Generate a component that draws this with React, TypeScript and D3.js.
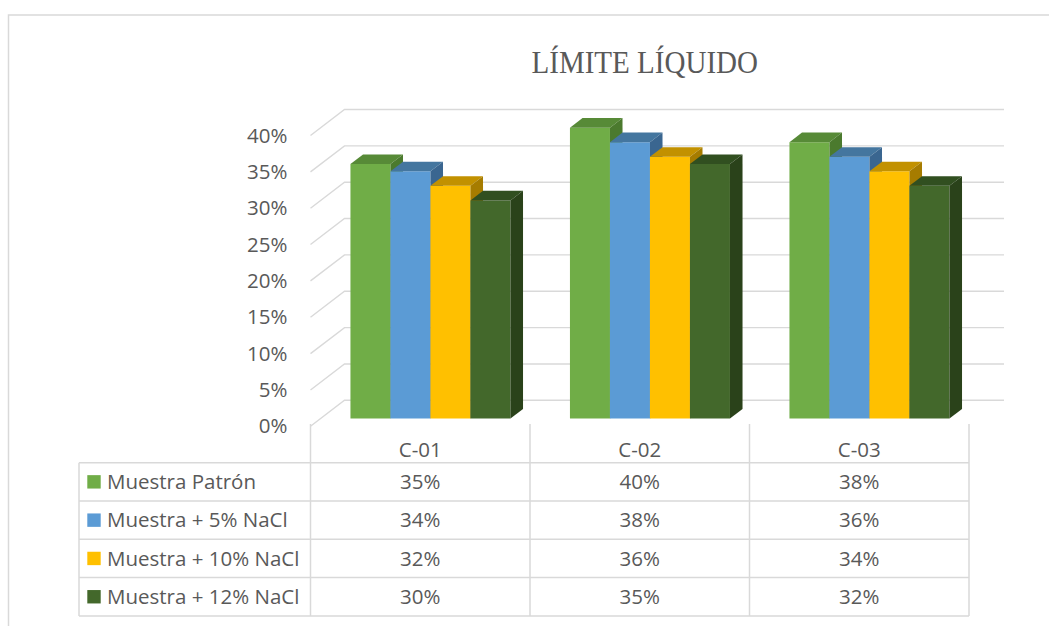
import * as d3 from "d3";
import React from "react";

const categories = ["C-01", "C-02", "C-03"];
const seriesNames = ["Muestra Patrón", "Muestra + 5% NaCl", "Muestra + 10% NaCl", "Muestra + 12% NaCl"];
const patron = [35, 40, 38];
const nacl5 = [34, 38, 36];
const nacl10 = [32, 36, 34];
const nacl12 = [30, 35, 32];
const seriesValues = [patron, nacl5, nacl10, nacl12];
const yTicks = [0, 5, 10, 15, 20, 25, 30, 35, 40];

const frontColors = ["#70ad47", "#5b9bd5", "#ffc000", "#43682b"];
const topColors = ["#578a37", "#44769f", "#c29100", "#314f20"];
const sideColors = ["#4b7a2e", "#3a6690", "#a67c00", "#2a421a"];

const W = 1049;
const H = 626;
const textColor = "#595959";
const lineColor = "#d9d9d9";
const font = "'Open Sans', sans-serif";
const fontSize = 20.5;

// 3D projection: depth z in [0,1] from front plane to back wall
const DEPTH_X = 34;
const DEPTH_Y = -26;
const BAR_Z0 = 0.3;
const BAR_Z1 = 0.67;

const tableLeft = 79;
const axisX = 310.5;
const tableRight = 969;
const headerTop = 424;
const headerBottom = 462.7;
const rowH = 38.3;

export default function App() {
  const x = d3.scaleBand<string>().domain(categories).range([axisX, tableRight]).padding(0);
  const groupW = 160;
  const inner = d3
    .scaleBand<number>()
    .domain(seriesNames.map((_, i) => i))
    .range([0, groupW])
    .padding(0);
  const y = d3.scaleLinear().domain([0, 40]).range([426.3, 135.5]);

  const proj = (px: number, v: number, z: number): [number, number] => [px + z * DEPTH_X, y(v) + z * DEPTH_Y];
  const pts = (arr: [number, number][]) => arr.map((p) => p.join(",")).join(" ");

  const gridEnd = 1004;

  const bars: React.ReactNode[] = [];
  categories.forEach((c, ci) => {
    const gx = (x(c) as number) + (x.bandwidth() - groupW) / 2;
    seriesValues.forEach((vals, si) => {
      const v = vals[ci];
      const x0 = gx + (inner(si) as number);
      const x1 = x0 + inner.bandwidth();
      const fbl = proj(x0, 0, BAR_Z0);
      const fbr = proj(x1, 0, BAR_Z0);
      const ftl = proj(x0, v, BAR_Z0);
      const ftr = proj(x1, v, BAR_Z0);
      const btl = proj(x0, v, BAR_Z1);
      const btr = proj(x1, v, BAR_Z1);
      const bbr = proj(x1, 0, BAR_Z1);
      bars.push(
        <g key={`${ci}-${si}`}>
          <polygon points={pts([fbl, fbr, ftr, ftl])} fill={frontColors[si]} />
          <polygon points={pts([ftl, ftr, btr, btl])} fill={topColors[si]} />
          <polygon points={pts([fbr, ftr, btr, bbr])} fill={sideColors[si]} />
        </g>
      );
    });
  });

  return (
    <svg
      width={W}
      height={H}
      style={{ position: "absolute", left: 0, top: 0, background: "#fff" }}
    >
      <rect x={8.5} y={15} width={W + 20} height={H + 20} fill="#fff" stroke={lineColor} strokeWidth={1.5} />

      <text
        x={531.5}
        y={73.3}
        textLength={226.5}
        lengthAdjust="spacingAndGlyphs"
        fontFamily="'Liberation Serif', 'Times New Roman', serif"
        fontSize={31}
        fill={textColor}
      >
        LÍMITE LÍQUIDO
      </text>

      {/* gridlines on side and back walls */}
      {yTicks.map((t) => {
        const a = proj(axisX, t, 0);
        const b = proj(axisX, t, 1);
        return (
          <path
            key={t}
            d={`M${a[0]},${a[1]}L${b[0]},${b[1]}L${gridEnd},${b[1]}`}
            fill="none"
            stroke={lineColor}
            strokeWidth={1.4}
          />
        );
      })}

      {yTicks.map((t) => (
        <text
          key={t}
          x={287.5}
          y={y(t)}
          dy="0.35em"
          textAnchor="end"
          fontFamily={font}
          fontSize={fontSize}
          fill={textColor}
        >
          {t}%
        </text>
      ))}

      {bars}

      {/* data table */}
      <g fill="none" stroke={lineColor} strokeWidth={1.5}>
        {[axisX, ...categories.map((c) => (x(c) as number) + x.bandwidth())].map((lx, i) => (
          <line key={i} x1={lx} x2={lx} y1={headerTop} y2={headerBottom + rowH * 4} />
        ))}
        <line x1={tableLeft} x2={tableLeft} y1={headerBottom} y2={headerBottom + rowH * 4} />
        {d3.range(5).map((r) => (
          <line
            key={r}
            x1={tableLeft}
            x2={tableRight}
            y1={headerBottom + rowH * r}
            y2={headerBottom + rowH * r}
          />
        ))}
      </g>

      {categories.map((c) => (
        <text
          key={c}
          x={(x(c) as number) + x.bandwidth() / 2}
          y={(headerTop + headerBottom) / 2 + 6}
          dy="0.35em"
          textAnchor="middle"
          fontFamily={font}
          fontSize={fontSize}
          fill={textColor}
        >
          {c}
        </text>
      ))}

      {seriesNames.map((name, si) => {
        const cy = headerBottom + rowH * si + rowH / 2;
        return (
          <g key={name}>
            <rect x={87.3} y={cy - 6.7} width={13.4} height={13.4} fill={frontColors[si]} />
            <text x={107} y={cy} dy="0.35em" fontFamily={font} fontSize={fontSize} fill={textColor}>
              {name}
            </text>
            {categories.map((c, ci) => (
              <text
                key={c}
                x={(x(c) as number) + x.bandwidth() / 2}
                y={cy}
                dy="0.35em"
                textAnchor="middle"
                fontFamily={font}
                fontSize={fontSize}
                fill={textColor}
              >
                {seriesValues[si][ci]}%
              </text>
            ))}
          </g>
        );
      })}
    </svg>
  );
}
